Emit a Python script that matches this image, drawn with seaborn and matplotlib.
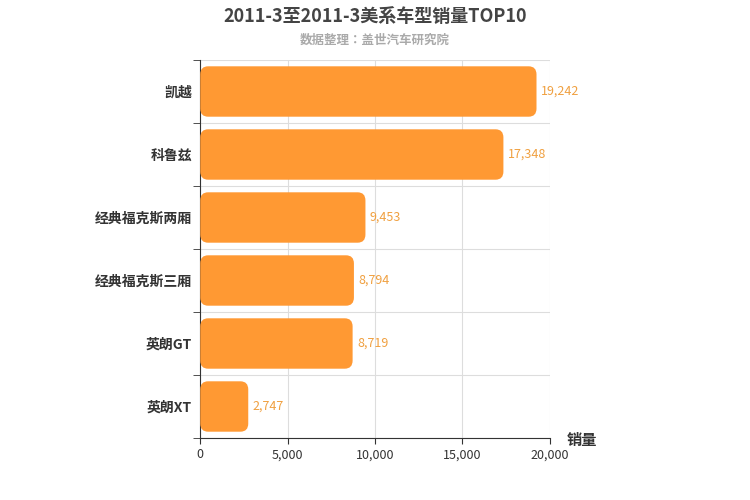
import matplotlib.pyplot as plt
import seaborn as sns
import pandas as pd
from matplotlib.patches import FancyBboxPatch

plt.rcParams['font.family'] = 'sans-serif'
plt.rcParams['font.sans-serif'] = ['Noto Sans CJK SC', 'Noto Sans CJK JP', 'Noto Sans CJK TC',
                                   'Noto Sans CJK KR', 'DejaVu Sans']

models = ['凯越', '科鲁兹', '经典福克斯两厢', '经典福克斯三厢', '英朗GT', '英朗XT']
sales = [19242, 17348, 9453, 8794, 8719, 2747]
xticks = [0, 5000, 10000, 15000, 20000]

df = pd.DataFrame({'车型': models, '销量': sales})
bar_color = '#FF9933'

fig = plt.figure(figsize=(7.5, 5), dpi=100)
ax = fig.add_axes([0.267, 0.124, 0.466, 0.756])
sns.barplot(data=df, y='车型', x='销量', color=bar_color, width=0.8, ax=ax)

# rounded bars
for p in list(ax.patches):
    x, y, w, h = p.get_x(), p.get_y(), p.get_width(), p.get_height()
    p.remove()
    ax.add_patch(FancyBboxPatch((x, y), w, h, boxstyle='round,pad=0,rounding_size=450',
                                mutation_aspect=0.13 / 450, fc=bar_color, ec='none', zorder=3))

for i, v in enumerate(sales):
    ax.text(v + 250, i, f'{v:,}', va='center', ha='left', fontsize=9, color='#F0A040', zorder=4)

ax.set_xlim(0, 20000)
ax.set_ylim(len(models) - 0.5, -0.5)
ax.set_xticks(xticks)
ax.set_xticklabels([f'{t:,}' for t in xticks], fontsize=9, color='#333333')
ax.set_yticks(range(len(models)))
ax.set_yticklabels(models, fontsize=10, fontweight='bold', color='#333333')
ax.tick_params(axis='y', length=0, pad=6)
ax.set_yticks([i - 0.5 for i in range(len(models) + 1)], minor=True)
ax.tick_params(axis='y', which='minor', length=5, color='#333333')
ax.tick_params(axis='x', length=4, color='#333333')
ax.grid(axis='x', color='#dddddd', zorder=0)
ax.grid(axis='y', which='minor', color='#dddddd', zorder=0)
ax.set_axisbelow(True)
for s in ['top', 'right']:
    ax.spines[s].set_visible(False)
ax.spines['left'].set_color('#333333')
ax.spines['bottom'].set_color('#333333')
ax.set_ylabel('')
ax.set_xlabel('')
fig.text(0.755, 0.11, '销量', fontsize=11, fontweight='bold', color='#333333')

fig.text(0.5, 0.955, '2011-3至2011-3美系车型销量TOP10', ha='center', fontsize=13,
         fontweight='bold', color='#444444')
fig.text(0.5, 0.912, '数据整理：盖世汽车研究院', ha='center', fontsize=9,
         fontweight='bold', color='#aaaaaa')

fig.savefig('out.png', dpi=100)
